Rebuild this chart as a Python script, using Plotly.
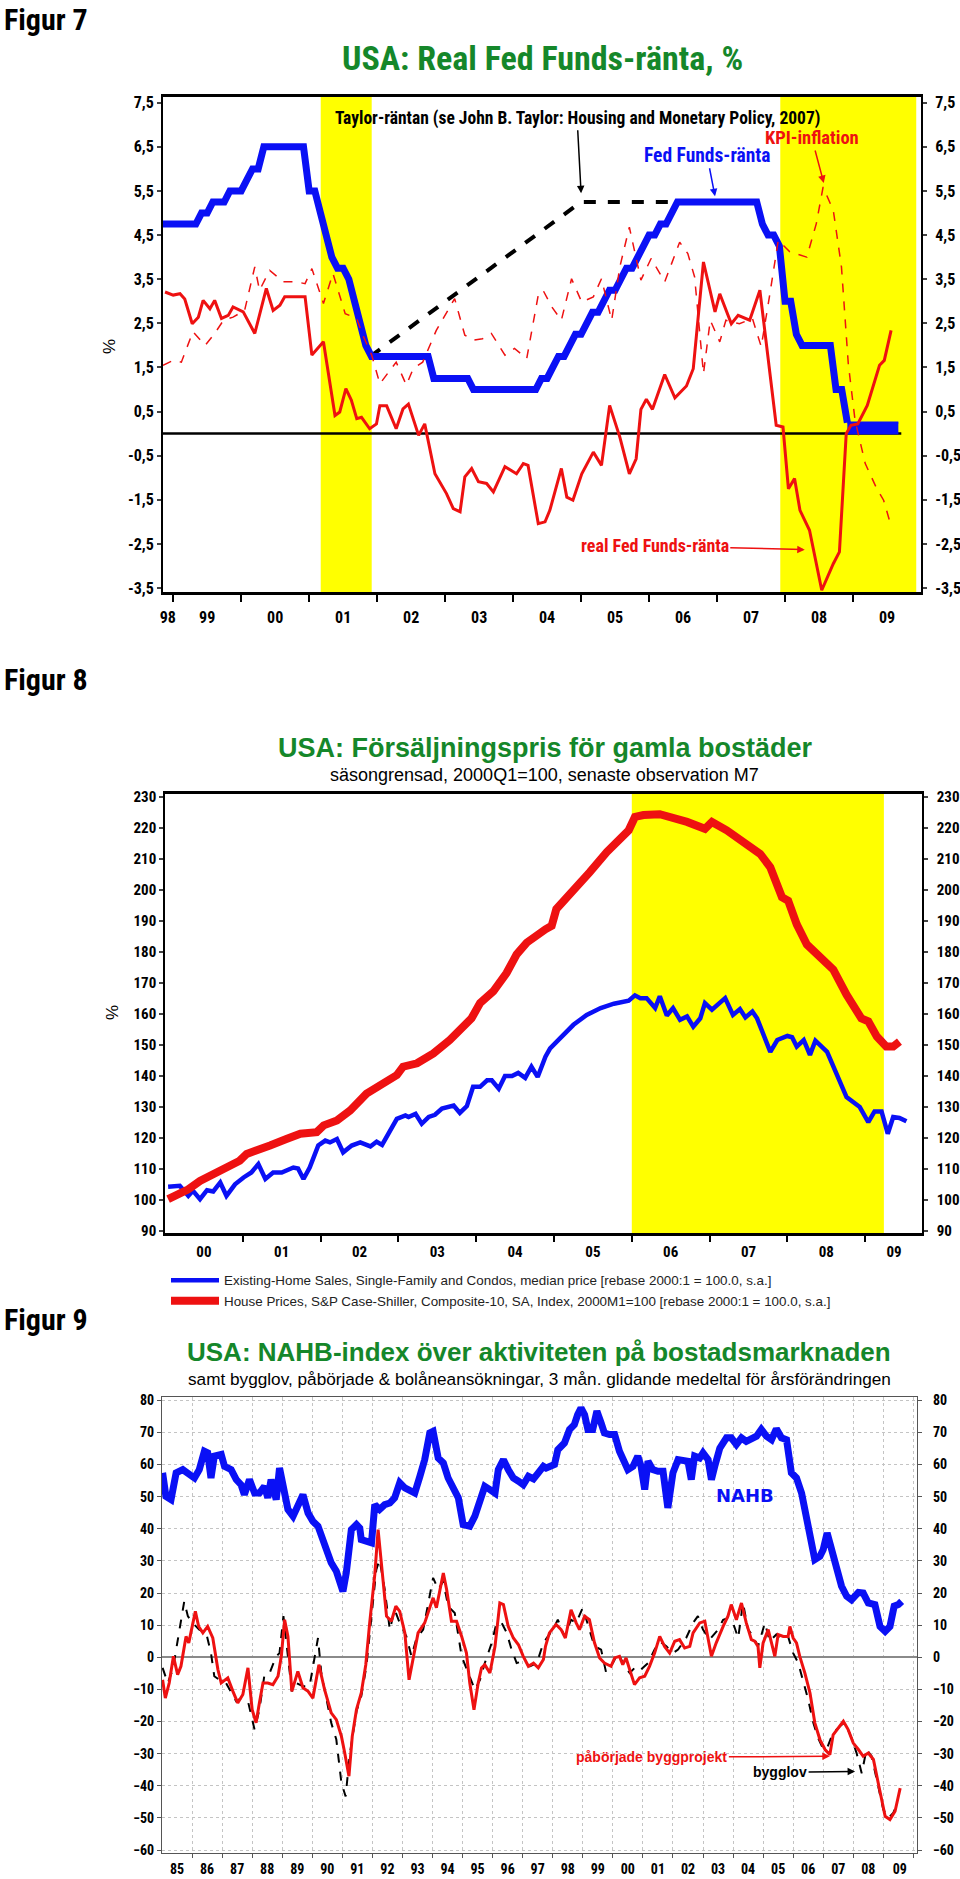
import plotly.graph_objects as go

# ======================= Figur 7 data =======================
fed_funds_start = (1998, 11)          # first month of the monthly Fed Funds series
fed_funds = [4.75, 4.75,
             4.75, 4.75, 4.75, 4.75, 4.75, 5.0, 5.0, 5.25, 5.25, 5.25, 5.5, 5.5,
             5.5, 5.75, 6.0, 6.0, 6.5, 6.5, 6.5, 6.5, 6.5, 6.5, 6.5, 6.5,
             5.5, 5.5, 5.0, 4.5, 4.0, 3.75, 3.75, 3.5, 3.0, 2.5, 2.0, 1.75,
             1.75, 1.75, 1.75, 1.75, 1.75, 1.75, 1.75, 1.75, 1.75, 1.75, 1.25, 1.25,
             1.25, 1.25, 1.25, 1.25, 1.25, 1.0, 1.0, 1.0, 1.0, 1.0, 1.0, 1.0,
             1.0, 1.0, 1.0, 1.0, 1.0, 1.25, 1.25, 1.5, 1.75, 1.75, 2.0, 2.25,
             2.25, 2.5, 2.75, 2.75, 3.0, 3.25, 3.25, 3.5, 3.75, 3.75, 4.0, 4.25,
             4.5, 4.5, 4.75, 4.75, 5.0, 5.25, 5.25, 5.25, 5.25, 5.25, 5.25, 5.25,
             5.25, 5.25, 5.25, 5.25, 5.25, 5.25, 5.25, 5.25, 4.75, 4.5, 4.5, 4.25,
             3.0, 3.0, 2.25, 2.0, 2.0, 2.0, 2.0, 2.0, 2.0, 1.0, 1.0, 0.25]
zero_band_start = (2008, 12)          # 0-0.25 target range, monthly
zero_band_low = [0.0, 0.0, 0.0, 0.0, 0.0, 0.0, 0.0, 0.0, 0.0, 0.0]
zero_band_high = [0.25, 0.25, 0.25, 0.25, 0.25, 0.25, 0.25, 0.25, 0.25, 0.25]

real_rate = [(1998.88, 3.21), (1999.0, 3.14), (1999.1, 3.17), (1999.17, 3.05), (1999.28, 2.49),
             (1999.37, 2.64), (1999.44, 3.02), (1999.54, 2.83), (1999.61, 3.02), (1999.71, 2.61),
             (1999.81, 2.68), (1999.88, 2.87), (2000.03, 2.76), (2000.2, 2.27), (2000.37, 3.29),
             (2000.47, 2.79), (2000.57, 2.91), (2000.64, 3.10), (2000.94, 3.10), (2001.04, 1.78),
             (2001.21, 2.08), (2001.38, 0.41), (2001.45, 0.49), (2001.54, 1.02), (2001.62, 0.76),
             (2001.7, 0.34), (2001.77, 0.37), (2001.89, 0.11), (2001.99, 0.22), (2002.04, 0.63),
             (2002.14, 0.63), (2002.28, 0.11), (2002.38, 0.56), (2002.46, 0.67), (2002.61, -0.04),
             (2002.7, 0.22), (2002.85, -0.91), (2003.02, -1.36), (2003.12, -1.70), (2003.22, -1.77),
             (2003.29, -0.98), (2003.39, -0.79), (2003.49, -1.09), (2003.61, -1.13), (2003.71, -1.32),
             (2003.88, -0.75), (2004.05, -0.91), (2004.15, -0.68), (2004.22, -0.72), (2004.37, -2.04),
             (2004.47, -2.0), (2004.54, -1.74), (2004.71, -0.79), (2004.79, -1.44), (2004.88, -1.51),
             (2005.01, -0.91), (2005.18, -0.42), (2005.3, -0.72), (2005.42, 0.64), (2005.57, -0.08),
             (2005.71, -0.91), (2005.81, -0.57), (2005.88, 0.55), (2005.96, 0.78), (2006.05, 0.55),
             (2006.23, 1.34), (2006.38, 0.81), (2006.55, 1.08), (2006.65, 1.47), (2006.8, 3.89),
             (2006.97, 2.76), (2007.04, 3.17), (2007.21, 2.49), (2007.31, 2.68), (2007.48, 2.57),
             (2007.63, 3.25), (2007.87, 0.19), (2007.97, 0.15), (2008.05, -1.25), (2008.14, -1.02),
             (2008.22, -1.74), (2008.36, -2.19), (2008.54, -3.55), (2008.71, -2.95), (2008.8, -2.68),
             (2008.9, 0.0), (2008.97, 0.19), (2009.07, 0.22), (2009.21, 0.64), (2009.39, 1.55),
             (2009.46, 1.66), (2009.56, 2.34)]

cpi_inflation = [(1998.85, 1.55), (1999.0, 1.66), (1999.12, 1.62), (1999.29, 2.31), (1999.47, 2.0),
                 (1999.61, 2.27), (1999.74, 2.57), (1999.88, 2.64), (2000.05, 2.79), (2000.2, 3.78),
                 (2000.27, 3.25), (2000.42, 3.70), (2000.62, 3.44), (2000.81, 3.44), (2000.94, 3.40),
                 (2001.04, 3.74), (2001.21, 2.95), (2001.35, 3.63), (2001.53, 2.72), (2001.7, 2.61),
                 (2001.79, 2.23), (2001.92, 1.78), (2002.04, 1.13), (2002.28, 1.62), (2002.43, 1.10),
                 (2002.53, 1.47), (2002.67, 1.62), (2002.87, 2.34), (2003.14, 3.06), (2003.29, 2.23),
                 (2003.41, 2.12), (2003.55, 2.15), (2003.68, 2.27), (2003.88, 1.78), (2004.02, 1.93),
                 (2004.2, 1.70), (2004.37, 3.14), (2004.44, 3.25), (2004.57, 2.87), (2004.71, 2.57),
                 (2004.86, 3.51), (2005.01, 2.98), (2005.18, 3.10), (2005.3, 3.51), (2005.45, 2.57),
                 (2005.57, 3.78), (2005.71, 4.68), (2005.81, 3.93), (2005.88, 3.48), (2006.03, 3.97),
                 (2006.23, 3.44), (2006.45, 4.34), (2006.57, 4.08), (2006.67, 3.55), (2006.8, 1.36),
                 (2006.9, 2.57), (2007.04, 2.08), (2007.13, 2.57), (2007.33, 2.49), (2007.52, 2.61),
                 (2007.65, 1.97), (2007.77, 3.10), (2007.9, 4.38), (2008.07, 4.12), (2008.32, 4.0),
                 (2008.46, 4.76), (2008.56, 5.59), (2008.71, 5.06), (2008.83, 3.78), (2008.93, 1.59),
                 (2009.03, 0.30), (2009.18, -0.68), (2009.35, -1.25), (2009.45, -1.51), (2009.55, -2.04)]

taylor_dates = [2001.9, 2005.0, 2006.3]
taylor_rate = [1.75, 5.25, 5.25]
zero_line_dates = [1998.85, 2009.71]
zero_line_values = [0.0, 0.0]
fig7_bands = [(2001.17, 2001.92), (2007.93, 2009.93)]
fig7_xrange = [1998.85, 2010.0]
fig7_yrange = [-3.59, 7.63]
fig7_ytick_vals = [7.5, 6.5, 5.5, 4.5, 3.5, 2.5, 1.5, 0.5, -0.5, -1.5, -2.5, -3.5]
fig7_ytick_text = ["7,5", "6,5", "5,5", "4,5", "3,5", "2,5", "1,5", "0,5", "-0,5", "-1,5", "-2,5", "-3,5"]
fig7_year_ticks = [1999, 2000, 2001, 2002, 2003, 2004, 2005, 2006, 2007, 2008, 2009]
fig7_label_pos = [1998.92, 1999.5, 2000.5, 2001.5, 2002.5, 2003.5, 2004.5, 2005.5, 2006.5,
                  2007.5, 2008.5, 2009.5]
fig7_labels = ["98", "99", "00", "01", "02", "03", "04", "05", "06", "07", "08", "09"]

# ======================= Figur 8 data =======================
case_shiller = [(2000.04, 100.3), (2000.19, 101.9), (2000.3, 103.5), (2000.45, 106.2), (2000.62, 108.4),
                (2000.79, 110.5), (2000.96, 112.7), (2001.05, 114.9), (2001.14, 115.9), (2001.35, 117.6),
                (2001.56, 119.7), (2001.74, 121.4), (2001.95, 121.9), (2002.04, 124.1), (2002.21, 125.7),
                (2002.38, 128.9), (2002.59, 134.3), (2002.76, 137.0), (2002.98, 140.3), (2003.06, 143.0),
                (2003.24, 144.1), (2003.45, 147.3), (2003.66, 151.6), (2003.94, 158.6), (2004.05, 163.5),
                (2004.22, 167.3), (2004.39, 173.2), (2004.52, 179.2), (2004.65, 183.0), (2004.89, 187.3),
                (2004.97, 188.4), (2005.03, 193.8), (2005.25, 199.7), (2005.46, 205.7), (2005.68, 212.2),
                (2005.85, 217.0), (2005.96, 219.2), (2006.04, 223.5), (2006.15, 224.1), (2006.36, 224.4),
                (2006.53, 223.5), (2006.71, 221.9), (2006.94, 219.7), (2007.03, 221.9), (2007.22, 219.2),
                (2007.48, 214.9), (2007.65, 211.6), (2007.78, 207.3), (2007.93, 197.6), (2008.01, 196.5),
                (2008.12, 188.9), (2008.25, 182.4), (2008.42, 178.1), (2008.59, 174.3), (2008.76, 166.2),
                (2008.95, 158.6), (2009.04, 157.6), (2009.15, 152.7), (2009.27, 149.5), (2009.36, 149.5),
                (2009.44, 151.1)]

existing_home = [(2000.04, 104.3), (2000.19, 104.6), (2000.3, 101.4), (2000.36, 103.0), (2000.45, 100.3),
                 (2000.54, 103.2), (2000.62, 102.8), (2000.71, 105.7), (2000.79, 101.4), (2000.9, 105.1),
                 (2001.01, 107.3), (2001.11, 108.9), (2001.2, 111.6), (2001.29, 106.8), (2001.39, 108.9),
                 (2001.5, 108.9), (2001.65, 110.5), (2001.71, 110.2), (2001.78, 106.8), (2001.86, 110.5),
                 (2001.97, 117.6), (2002.06, 119.2), (2002.12, 118.6), (2002.21, 119.7), (2002.29, 115.4),
                 (2002.4, 117.6), (2002.51, 118.6), (2002.64, 117.3), (2002.72, 118.8), (2002.79, 117.8),
                 (2002.98, 126.2), (2003.09, 127.3), (2003.13, 126.8), (2003.22, 127.8), (2003.3, 124.6),
                 (2003.39, 126.8), (2003.47, 127.5), (2003.56, 129.5), (2003.71, 130.5), (2003.79, 128.1),
                 (2003.88, 130.3), (2003.96, 136.5), (2004.05, 136.5), (2004.14, 138.6), (2004.2, 138.6),
                 (2004.29, 135.9), (2004.37, 140.0), (2004.46, 140.0), (2004.54, 141.0), (2004.63, 139.4),
                 (2004.71, 143.0), (2004.79, 139.7), (2004.89, 146.2), (2004.95, 148.9), (2005.08, 152.2),
                 (2005.25, 156.5), (2005.42, 159.7), (2005.6, 161.9), (2005.77, 163.3), (2005.96, 164.3),
                 (2006.04, 166.0), (2006.11, 165.1), (2006.19, 165.1), (2006.3, 161.9), (2006.36, 165.7),
                 (2006.45, 159.5), (2006.53, 161.9), (2006.62, 158.1), (2006.71, 159.2), (2006.79, 155.9),
                 (2006.88, 158.6), (2006.94, 163.5), (2007.03, 161.4), (2007.2, 165.1), (2007.3, 159.7),
                 (2007.39, 161.6), (2007.46, 158.9), (2007.55, 160.8), (2007.61, 158.6), (2007.78, 147.8),
                 (2007.87, 151.6), (2008.0, 152.9), (2008.06, 152.5), (2008.12, 149.5), (2008.21, 151.6),
                 (2008.29, 146.8), (2008.36, 151.4), (2008.51, 147.8), (2008.76, 133.2), (2008.93, 130.0),
                 (2009.04, 125.1), (2009.12, 128.6), (2009.21, 128.6), (2009.29, 121.4), (2009.36, 126.8),
                 (2009.44, 126.5), (2009.53, 125.4)]

fig8_band = (2006.0, 2009.24)
fig8_xrange = [2000.0, 2009.73]
fig8_yrange = [89.4, 230.9]
fig8_yticks = [90, 100, 110, 120, 130, 140, 150, 160, 170, 180, 190, 200, 210, 220, 230]
fig8_year_ticks = [2001, 2002, 2003, 2004, 2005, 2006, 2007, 2008, 2009]
fig8_label_pos = [2000.5, 2001.5, 2002.5, 2003.5, 2004.5, 2005.5, 2006.5, 2007.5, 2008.5, 2009.37]
fig8_labels = ["00", "01", "02", "03", "04", "05", "06", "07", "08", "09"]
legend_existing = "Existing-Home Sales, Single-Family and Condos, median price [rebase 2000:1 = 100.0, s.a.]"
legend_caseshiller = "House Prices, S&P Case-Shiller, Composite-10, SA, Index, 2000M1=100 [rebase 2000:1 = 100.0, s.a.]"

# ======================= Figur 9 data =======================
nahb = [(1985.02, 57.4), (1985.13, 50.1), (1985.3, 49.1), (1985.47, 57.4), (1985.69, 58.4),
        (1985.91, 56.8), (1986.08, 55.8), (1986.24, 58.4), (1986.41, 64.1), (1986.52, 63.6),
        (1986.63, 55.8), (1986.74, 62.6), (1986.86, 62.6), (1986.97, 63.1), (1987.08, 59.4),
        (1987.3, 58.4), (1987.47, 55.3), (1987.63, 53.7), (1987.74, 50.6), (1987.91, 55.3),
        (1988.08, 51.1), (1988.24, 51.1), (1988.41, 53.2), (1988.52, 49.6), (1988.63, 55.3),
        (1988.8, 49.1), (1988.91, 58.9), (1989.02, 53.2), (1989.19, 46.0), (1989.36, 43.9),
        (1989.52, 47.5), (1989.69, 50.6), (1989.86, 44.9), (1990.02, 42.3), (1990.19, 40.8),
        (1990.36, 36.6), (1990.52, 33.5), (1990.63, 29.4), (1990.8, 26.8), (1991.02, 20.5),
        (1991.13, 26.2), (1991.3, 39.7), (1991.47, 41.3), (1991.58, 40.2), (1991.63, 36.6),
        (1991.86, 36.1), (1991.97, 35.6), (1992.08, 47.5), (1992.24, 46.0), (1992.41, 47.5),
        (1992.58, 48.0), (1992.74, 49.6), (1992.91, 54.3), (1993.08, 52.7), (1993.24, 52.2),
        (1993.41, 51.1), (1993.58, 56.3), (1993.74, 61.5), (1993.91, 69.8), (1994.02, 70.3),
        (1994.19, 62.0), (1994.36, 60.5), (1994.52, 55.8), (1994.69, 52.2), (1994.86, 49.6),
        (1995.02, 41.3), (1995.24, 40.8), (1995.41, 43.9), (1995.58, 49.1), (1995.74, 53.2),
        (1995.91, 52.2), (1996.08, 51.1), (1996.19, 58.4), (1996.36, 61.5), (1996.52, 58.4),
        (1996.69, 55.8), (1996.86, 54.8), (1997.02, 53.7), (1997.19, 56.3), (1997.36, 55.5),
        (1997.52, 57.4), (1997.69, 59.4), (1997.78, 58.9), (1998.06, 60.0), (1998.17, 64.6),
        (1998.39, 66.7), (1998.56, 70.9), (1998.72, 72.4), (1998.83, 75.5), (1998.94, 77.6),
        (1999.06, 75.5), (1999.17, 70.9), (1999.33, 70.9), (1999.47, 76.6), (1999.61, 72.9),
        (1999.72, 69.8), (1999.89, 69.3), (2000.06, 69.3), (2000.22, 64.1), (2000.39, 61.0),
        (2000.5, 58.4), (2000.67, 59.4), (2000.83, 62.6), (2000.94, 59.4), (2001.06, 52.2),
        (2001.17, 61.0), (2001.33, 58.4), (2001.5, 57.9), (2001.67, 57.9), (2001.83, 46.5),
        (2002.0, 57.4), (2002.17, 61.5), (2002.33, 61.0), (2002.5, 61.0), (2002.61, 55.3),
        (2002.72, 62.6), (2002.89, 62.0), (2003.0, 63.6), (2003.17, 61.5), (2003.28, 55.3),
        (2003.39, 59.4), (2003.56, 65.1), (2003.78, 68.3), (2003.94, 68.3), (2004.11, 66.2),
        (2004.28, 68.3), (2004.44, 67.2), (2004.67, 68.3), (2004.78, 68.8), (2004.94, 70.9),
        (2005.11, 68.8), (2005.28, 67.7), (2005.44, 71.1), (2005.61, 68.3), (2005.78, 67.7),
        (2005.94, 57.4), (2006.11, 55.8), (2006.28, 51.1), (2006.44, 43.9), (2006.61, 36.6),
        (2006.72, 30.4), (2006.89, 31.4), (2007.0, 33.5), (2007.13, 38.7), (2007.28, 33.5),
        (2007.44, 26.8), (2007.61, 22.1), (2007.78, 19.0), (2007.94, 17.9), (2008.17, 20.2),
        (2008.33, 20.0), (2008.5, 16.9), (2008.72, 16.4), (2008.89, 9.6), (2009.06, 8.1),
        (2009.22, 9.6), (2009.36, 15.9), (2009.5, 16.4), (2009.61, 17.4)]

housing_starts = [(1985.02, -7.0), (1985.11, -12.7), (1985.24, -8.0), (1985.38, 0.3), (1985.52, -5.4),
                  (1985.63, -2.8), (1985.8, 6.5), (1985.89, 4.5), (1986.11, 14.3), (1986.22, 9.6),
                  (1986.36, 7.6), (1986.52, 9.6), (1986.69, 6.0), (1986.86, -3.8), (1986.97, -8.0),
                  (1987.19, -6.4), (1987.36, -10.6), (1987.52, -14.2), (1987.69, -11.6), (1987.86, -3.3),
                  (1988.0, -16.3), (1988.13, -20.4), (1988.24, -14.2), (1988.36, -8.0), (1988.52, -8.0),
                  (1988.69, -8.5), (1988.86, -5.9), (1988.97, 0.3), (1989.08, 11.7), (1989.19, 6.5),
                  (1989.32, -10.6), (1989.52, -4.4), (1989.69, -9.5), (1989.86, -10.6), (1990.02, -12.7),
                  (1990.22, -2.3), (1990.41, -10.1), (1990.63, -17.3), (1990.8, -19.4), (1990.97, -24.6),
                  (1991.08, -29.8), (1991.22, -37.0), (1991.33, -24.6), (1991.47, -16.3), (1991.63, -11.1),
                  (1991.78, -2.3), (1991.91, 10.7), (1992.08, 25.7), (1992.19, 39.7), (1992.36, 24.2),
                  (1992.47, 12.8), (1992.63, 11.2), (1992.78, 15.9), (1992.91, 14.3), (1993.08, 7.6),
                  (1993.22, -7.0), (1993.36, 0.3), (1993.52, 7.6), (1993.74, 10.7), (1993.91, 15.9),
                  (1994.02, 18.5), (1994.13, 15.4), (1994.36, 26.2), (1994.47, 21.1), (1994.63, 11.2),
                  (1994.8, 11.2), (1994.97, 6.5), (1995.13, 1.3), (1995.24, -8.0), (1995.38, -16.3),
                  (1995.52, -8.0), (1995.63, -3.3), (1995.74, -2.3), (1995.91, -4.9), (1996.08, 3.4),
                  (1996.24, 16.9), (1996.36, 16.4), (1996.52, 9.6), (1996.69, 6.0), (1996.86, 3.9),
                  (1997.02, 0.3), (1997.19, -2.8), (1997.36, -1.8), (1997.52, -3.3), (1997.69, -0.7),
                  (1997.76, 3.4), (1997.89, 7.6), (1998.11, 10.2), (1998.28, 8.6), (1998.42, 6.0),
                  (1998.61, 14.8), (1998.78, 10.7), (1998.89, 8.6), (1999.06, 12.8), (1999.22, 11.7),
                  (1999.39, 4.5), (1999.56, -0.2), (1999.72, -1.8), (1999.94, -2.8), (2000.06, -0.2),
                  (2000.22, 0.3), (2000.33, -2.3), (2000.44, -0.2), (2000.56, -3.8), (2000.72, -8.5),
                  (2000.89, -6.4), (2001.06, -5.9), (2001.22, -2.8), (2001.39, 1.3), (2001.56, 6.5),
                  (2001.72, 3.4), (2001.89, 1.3), (2002.06, 5.0), (2002.22, 5.5), (2002.39, 2.9),
                  (2002.56, 3.4), (2002.67, 7.6), (2002.89, 10.7), (2003.06, 11.2), (2003.28, 0.3),
                  (2003.44, 4.5), (2003.67, 9.6), (2003.83, 12.8), (2003.94, 16.4), (2004.11, 11.7),
                  (2004.28, 16.9), (2004.44, 10.7), (2004.61, 5.5), (2004.72, 5.0), (2004.83, 3.4),
                  (2004.89, -3.3), (2005.0, 4.5), (2005.17, 8.6), (2005.39, 0.3), (2005.5, 7.1),
                  (2005.67, 6.5), (2005.83, 6.5), (2005.89, 9.6), (2006.0, 6.0), (2006.11, 4.5),
                  (2006.22, 0.3), (2006.39, -4.9), (2006.56, -11.1), (2006.72, -20.4), (2006.89, -25.6),
                  (2007.06, -28.7), (2007.22, -30.3), (2007.33, -24.1), (2007.5, -22.0), (2007.67, -19.9),
                  (2007.83, -22.5), (2008.0, -26.7), (2008.17, -28.7), (2008.33, -30.8), (2008.5, -29.8),
                  (2008.67, -31.8), (2008.83, -39.1), (2009.06, -49.5), (2009.22, -50.5), (2009.39, -47.9),
                  (2009.56, -40.7)]

building_permits = [(1985.02, -3.3), (1985.19, -8.0), (1985.36, -3.8), (1985.52, 5.5), (1985.74, 17.4),
                    (1985.86, 12.8), (1986.02, 10.7), (1986.24, 8.6), (1986.47, 7.6), (1986.63, 1.3),
                    (1986.74, -5.9), (1986.91, -7.0), (1987.13, -8.0), (1987.47, -13.7), (1987.63, -12.7),
                    (1987.86, -13.7), (1988.08, -22.5), (1988.24, -16.3), (1988.41, -5.4), (1988.58, -4.9),
                    (1988.8, 0.3), (1988.91, 1.3), (1989.04, 12.8), (1989.19, 0.3), (1989.32, -10.6),
                    (1989.47, -8.0), (1989.69, -9.0), (1989.91, -9.0), (1990.04, -1.8), (1990.19, 6.0),
                    (1990.3, -4.9), (1990.47, -13.2), (1990.63, -20.4), (1990.8, -25.6), (1990.97, -39.1),
                    (1991.11, -43.3), (1991.24, -30.8), (1991.47, -16.8), (1991.63, -12.1), (1991.8, -2.8),
                    (1991.97, 11.7), (1992.13, 27.3), (1992.24, 30.4), (1992.41, 21.1), (1992.58, 8.6),
                    (1992.74, 14.8), (1992.91, 10.7), (1993.13, 6.5), (1993.3, 0.3), (1993.47, 6.0),
                    (1993.69, 8.6), (1993.86, 16.9), (1994.02, 24.7), (1994.19, 21.1), (1994.36, 23.7),
                    (1994.52, 15.9), (1994.74, 13.8), (1994.97, 0.3), (1995.19, -4.9), (1995.41, -10.1),
                    (1995.58, -7.0), (1995.74, -1.8), (1995.97, 4.5), (1996.13, 10.7), (1996.3, 10.7),
                    (1996.47, 7.6), (1996.63, 2.4), (1996.8, -1.8), (1997.02, -1.2), (1997.24, -2.8),
                    (1997.47, -1.8), (1997.69, 4.5), (1998.0, 8.6), (1998.17, 11.7), (1998.39, 6.5),
                    (1998.61, 11.7), (1998.78, 10.7), (1999.0, 15.4), (1999.22, 8.6), (1999.39, 3.4),
                    (1999.61, 2.4), (1999.78, -4.9), (2000.0, -1.8), (2000.17, 1.3), (2000.39, -2.8),
                    (2000.56, -4.9), (2000.78, -2.8), (2000.94, -3.8), (2001.17, -1.8), (2001.39, 2.4),
                    (2001.56, 5.0), (2001.78, 3.4), (2002.0, 1.3), (2002.17, 2.4), (2002.44, 6.0),
                    (2002.67, 10.7), (2002.83, 12.8), (2003.0, 8.6), (2003.22, 5.5), (2003.5, 8.6),
                    (2003.67, 11.7), (2003.83, 12.2), (2004.0, 10.7), (2004.17, 6.0), (2004.33, 16.9),
                    (2004.5, 8.6), (2004.67, 6.5), (2004.83, 3.4), (2005.06, 10.7), (2005.22, 5.0),
                    (2005.44, 7.1), (2005.61, 5.5), (2005.83, 6.5), (2006.0, 1.3), (2006.17, -1.8),
                    (2006.33, -7.0), (2006.5, -13.2), (2006.67, -20.4), (2006.83, -25.1), (2006.98, -28.2),
                    (2007.11, -28.7), (2007.28, -24.6), (2007.44, -22.5), (2007.61, -21.0), (2007.78, -21.5),
                    (2007.94, -25.1), (2008.11, -29.8), (2008.28, -36.1), (2008.44, -28.7), (2008.61, -30.8),
                    (2008.78, -38.1), (2009.0, -47.4), (2009.17, -50.0), (2009.33, -48.4), (2009.5, -44.8)]

fig9_xrange = [1985.0, 2010.12]
fig9_yrange = [-60.9, 81.0]
fig9_yticks = [-60, -50, -40, -30, -20, -10, 0, 10, 20, 30, 40, 50, 60, 70, 80]
fig9_year_ticks = list(range(1986, 2011))
fig9_label_pos = [1985.5, 1986.5, 1987.5, 1988.5, 1989.5, 1990.5, 1991.5, 1992.5, 1993.5, 1994.5,
                  1995.5, 1996.5, 1997.5, 1998.5, 1999.5, 2000.5, 2001.5, 2002.5, 2003.5, 2004.5,
                  2005.5, 2006.5, 2007.5, 2008.5, 2009.55]
fig9_labels = ["85", "86", "87", "88", "89", "90", "91", "92", "93", "94", "95", "96", "97",
               "98", "99", "00", "01", "02", "03", "04", "05", "06", "07", "08", "09"]

# ======================= styling =======================
W, H = 960, 1879
COND = "Liberation Sans Narrow, Roboto Condensed, Arial Narrow, Roboto, sans-serif"
ARIAL = "Liberation Sans, Arial, sans-serif"
GREEN = "#15872a"
BLUE = "#0a10f5"
RED = "#ee1111"
YELLOW = "#ffff00"


def px(x):
    return x / W


def py(y):
    return 1 - y / H


def months(start, n):
    y0, m0 = start
    return [y0 + (m0 - 1) / 12 + i / 12 for i in range(n)]


def xs(points):
    return [p[0] for p in points]


def ys(points):
    return [p[1] for p in points]


fig = go.Figure()

# ---------- Figur 7 traces ----------
fig.add_trace(go.Scatter(x=zero_line_dates, y=zero_line_values, mode="lines",
                         line=dict(color="black", width=2.5), xaxis="x", yaxis="y", showlegend=False))
fig.add_trace(go.Scatter(x=taylor_dates, y=taylor_rate, mode="lines",
                         line=dict(color="black", width=4, dash="dash"), xaxis="x", yaxis="y",
                         showlegend=False))
band_x = months(zero_band_start, len(zero_band_low))
fig.add_trace(go.Scatter(x=band_x, y=zero_band_low, mode="lines", line=dict(color=BLUE, width=2),
                         xaxis="x", yaxis="y", showlegend=False))
fig.add_trace(go.Scatter(x=band_x, y=zero_band_high, mode="lines", line=dict(color=BLUE, width=2),
                         fill="tonexty", fillcolor=BLUE, xaxis="x", yaxis="y", showlegend=False))
fig.add_trace(go.Scatter(x=months(fed_funds_start, len(fed_funds)), y=fed_funds, mode="lines",
                         line=dict(color=BLUE, width=7), xaxis="x", yaxis="y", showlegend=False))
fig.add_trace(go.Scatter(x=xs(cpi_inflation), y=ys(cpi_inflation), mode="lines",
                         line=dict(color=RED, width=1.5, dash="dash"), xaxis="x", yaxis="y",
                         showlegend=False))
fig.add_trace(go.Scatter(x=xs(real_rate), y=ys(real_rate), mode="lines",
                         line=dict(color=RED, width=3), xaxis="x", yaxis="y2", showlegend=False))

# ---------- Figur 8 traces ----------
fig.add_trace(go.Scatter(x=xs(existing_home), y=ys(existing_home), mode="lines", name=legend_existing,
                         line=dict(color=BLUE, width=4.5), xaxis="x2", yaxis="y3", showlegend=True,
                         legendrank=1))
fig.add_trace(go.Scatter(x=xs(case_shiller), y=ys(case_shiller), mode="lines", name=legend_caseshiller,
                         line=dict(color=RED, width=8), xaxis="x2", yaxis="y4", showlegend=True,
                         legendrank=2))

# ---------- Figur 9 traces ----------
fig.add_trace(go.Scatter(x=xs(nahb), y=ys(nahb), mode="lines", line=dict(color=BLUE, width=7),
                         xaxis="x3", yaxis="y5", showlegend=False))
fig.add_trace(go.Scatter(x=xs(building_permits), y=ys(building_permits), mode="lines",
                         line=dict(color="black", width=2, dash="dash"), xaxis="x3", yaxis="y5",
                         showlegend=False))
fig.add_trace(go.Scatter(x=xs(housing_starts), y=ys(housing_starts), mode="lines",
                         line=dict(color=RED, width=3), xaxis="x3", yaxis="y6", showlegend=False))

# ---------- shapes (yellow periods) ----------
shapes = []
for x0, x1 in fig7_bands:
    shapes.append(dict(type="rect", xref="x", yref="y domain", x0=x0, x1=x1, y0=0, y1=1,
                       fillcolor=YELLOW, line=dict(width=0), layer="below"))
shapes.append(dict(type="rect", xref="x2", yref="y3 domain", x0=fig8_band[0], x1=fig8_band[1], y0=0, y1=1,
                   fillcolor=YELLOW, line=dict(width=0), layer="below"))

tickfont7 = dict(family=COND, size=16, color="black", weight="bold")
tickfont7x = dict(family=COND, size=16, color="black", weight="bold")
tickfont8 = dict(family=COND, size=15, color="black", weight="bold")
tickfont9 = dict(family=COND, size=14, color="black", weight="bold")

layout = dict(
    width=W, height=H, margin=dict(l=0, r=0, t=0, b=0, autoexpand=False),
    paper_bgcolor="white", plot_bgcolor="white",
    shapes=shapes,
    showlegend=True,
    legend=dict(x=px(166), y=py(1265), xanchor="left", yanchor="top", bgcolor="rgba(0,0,0,0)",
                font=dict(family=ARIAL, size=13.4, color="#222"), tracegroupgap=0, traceorder="normal",
                itemwidth=48),
    # Figur 7
    xaxis=dict(domain=[px(163), px(921)], anchor="y", range=fig7_xrange,
               tickmode="array", tickvals=fig7_label_pos, ticktext=fig7_labels, ticks="",
               tickfont=tickfont7x, showline=True, linewidth=3, linecolor="black", mirror=True,
               showgrid=False, zeroline=False, ticklabelstandoff=9,
               minor=dict(tickmode="array", tickvals=fig7_year_ticks, ticks="outside", ticklen=7,
                          tickwidth=2, tickcolor="black", showgrid=False)),
    yaxis=dict(domain=[py(592), py(97)], anchor="x", range=fig7_yrange, tickmode="array",
               tickvals=fig7_ytick_vals, ticktext=fig7_ytick_text, ticks="outside", ticklen=4,
               tickwidth=1.5, tickfont=tickfont7, showline=True, linewidth=2, linecolor="black",
               showgrid=False, zeroline=False),
    yaxis2=dict(overlaying="y", side="right", anchor="x", range=fig7_yrange, tickmode="array",
                tickvals=fig7_ytick_vals, ticktext=fig7_ytick_text, ticks="outside", ticklen=4,
                tickwidth=1.5, tickfont=tickfont7, showline=True, linewidth=2, linecolor="black",
                showgrid=False, zeroline=False, ticklabelstandoff=5),
    # Figur 8
    xaxis2=dict(domain=[px(165), px(922)], anchor="y3", range=fig8_xrange,
                tickmode="array", tickvals=fig8_label_pos, ticktext=fig8_labels, ticks="",
                tickfont=tickfont8, showline=True, linewidth=3, linecolor="black", mirror=True,
                showgrid=False, zeroline=False, ticklabelstandoff=3,
                minor=dict(tickmode="array", tickvals=fig8_year_ticks, ticks="outside", ticklen=6,
                           tickwidth=2, tickcolor="black", showgrid=False)),
    yaxis3=dict(domain=[py(1233), py(794)], anchor="x2", range=fig8_yrange, tickmode="array",
                tickvals=fig8_yticks, ticks="outside", ticklen=4, tickwidth=1.5, tickfont=tickfont8,
                showline=True, linewidth=1.5, linecolor="black", showgrid=False, zeroline=False),
    yaxis4=dict(overlaying="y3", side="right", anchor="x2", range=fig8_yrange, tickmode="array",
                tickvals=fig8_yticks, ticks="outside", ticklen=4, tickwidth=1.5, tickfont=tickfont8,
                showline=True, linewidth=1.5, linecolor="black", showgrid=False, zeroline=False,
                ticklabelstandoff=6),
    # Figur 9
    xaxis3=dict(domain=[px(162), px(917)], anchor="y5", range=fig9_xrange,
                tickmode="array", tickvals=fig9_label_pos, ticktext=fig9_labels, ticks="",
                tickfont=tickfont9, showline=True, linewidth=1.2, linecolor="#555", mirror=True,
                showgrid=False, zeroline=False, ticklabelstandoff=3,
                minor=dict(tickmode="array", tickvals=fig9_year_ticks, ticks="outside", ticklen=4,
                           tickwidth=1, tickcolor="#555", showgrid=True, gridcolor="#c4c4c4",
                           griddash="dot", gridwidth=1)),
    yaxis5=dict(domain=[py(1853), py(1397)], anchor="x3", range=fig9_yrange, tickmode="array",
                tickvals=fig9_yticks, ticks="outside", ticklen=4, tickwidth=1, tickcolor="#555",
                tickfont=tickfont9, showline=True, linewidth=1.2, linecolor="#555", mirror=True,
                showgrid=True, gridcolor="#c4c4c4", griddash="dot", gridwidth=1,
                zeroline=True, zerolinecolor="#8a8a8a", zerolinewidth=1.5),
    yaxis6=dict(overlaying="y5", side="right", anchor="x3", range=fig9_yrange, tickmode="array",
                tickvals=fig9_yticks, ticks="outside", ticklen=4, tickwidth=1, tickcolor="#555",
                tickfont=tickfont9, showline=True, linewidth=1.2, linecolor="#555",
                showgrid=False, zeroline=False, ticklabelstandoff=8),
)


def text_at(text, xc, yc, font, xanchor="center", angle=0):
    return dict(text=text, x=px(xc), y=py(yc), xref="paper", yref="paper", xanchor=xanchor,
                yanchor="middle", showarrow=False, textangle=angle, font=font)


ann = []
for label, ycen in (("Figur 7", 19), ("Figur 8", 679), ("Figur 9", 1319)):
    ann.append(text_at(label, 2, ycen, dict(family=COND, size=30, color="black", weight="bold"),
                       xanchor="left"))
ann.append(text_at("USA: Real Fed Funds-ränta, %", 542, 58,
                   dict(family=COND, size=34, color=GREEN, weight="bold")))
ann.append(text_at("USA: Försäljningspris för gamla bostäder", 545, 748,
                   dict(family=ARIAL, size=27, color=GREEN, weight="bold")))
ann.append(text_at("säsongrensad, 2000Q1=100, senaste observation M7", 544, 775,
                   dict(family=ARIAL, size=18, color="black")))
ann.append(text_at("USA: NAHB-index över aktiviteten på bostadsmarknaden", 539, 1352,
                   dict(family=ARIAL, size=26, color=GREEN, weight="bold")))
ann.append(text_at("samt bygglov, påbörjade & bolåneansökningar, 3 mån. glidande medeltal för årsförändringen",
                   539, 1379, dict(family=ARIAL, size=17.2, color="black")))
ann.append(text_at("%", 110, 347, dict(family=ARIAL, size=17, color="black"), angle=-90))
ann.append(text_at("%", 113, 1013, dict(family=ARIAL, size=17, color="black"), angle=-90))
# Figur 7 callouts
ann.append(dict(text="Taylor-räntan (se John B. Taylor: Housing and Monetary Policy, 2007)",
                x=2005.0, y=5.45, xref="x", yref="y", ax=-4, ay=-75, showarrow=True, arrowhead=2,
                arrowsize=1, arrowwidth=1.5, arrowcolor="black",
                font=dict(family=COND, size=17.5, color="black", weight="bold")))
ann.append(dict(text="Fed Funds-ränta", x=2006.97, y=5.38, xref="x", yref="y", ax=-8, ay=-41,
                showarrow=True, arrowhead=2, arrowsize=1, arrowwidth=1.5, arrowcolor=BLUE,
                font=dict(family=COND, size=19.5, color=BLUE, weight="bold")))
ann.append(dict(text="KPI-inflation", x=2008.57, y=5.68, xref="x", yref="y", ax=-12, ay=-45,
                showarrow=True, arrowhead=2, arrowsize=1, arrowwidth=1.5, arrowcolor=RED,
                font=dict(family=COND, size=18.5, color=RED, weight="bold")))
ann.append(dict(text="real Fed Funds-ränta", x=2008.29, y=-2.63, xref="x", yref="y", ax=-150, ay=-4,
                showarrow=True, arrowhead=2, arrowsize=1, arrowwidth=1.5, arrowcolor=RED,
                font=dict(family=COND, size=18, color=RED, weight="bold")))
# Figur 9 callouts
ann.append(dict(text="NAHB", x=2004.4, y=50.5, xref="x3", yref="y5", showarrow=False,
                xanchor="center", yanchor="middle",
                font=dict(family="DejaVu Sans", size=18, color=BLUE, weight="bold")))
ann.append(dict(text="påbörjade byggprojekt", x=2007.22, y=-30.8, xref="x3", yref="y5", ax=-178, ay=1,
                showarrow=True, arrowhead=2, arrowsize=1, arrowwidth=1.5, arrowcolor=RED,
                font=dict(family=ARIAL, size=14, color=RED, weight="bold")))
ann.append(dict(text="bygglov", x=2008.06, y=-35.5, xref="x3", yref="y5", ax=-75, ay=1,
                showarrow=True, arrowhead=2, arrowsize=1, arrowwidth=1.5, arrowcolor="black",
                font=dict(family=ARIAL, size=14, color="black", weight="bold")))
layout["annotations"] = ann

fig.update_layout(**layout)
fig.write_html("out.html", config={"displayModeBar": False},
               post_script="document.body.style.margin='0px';document.body.style.overflow='hidden';")
